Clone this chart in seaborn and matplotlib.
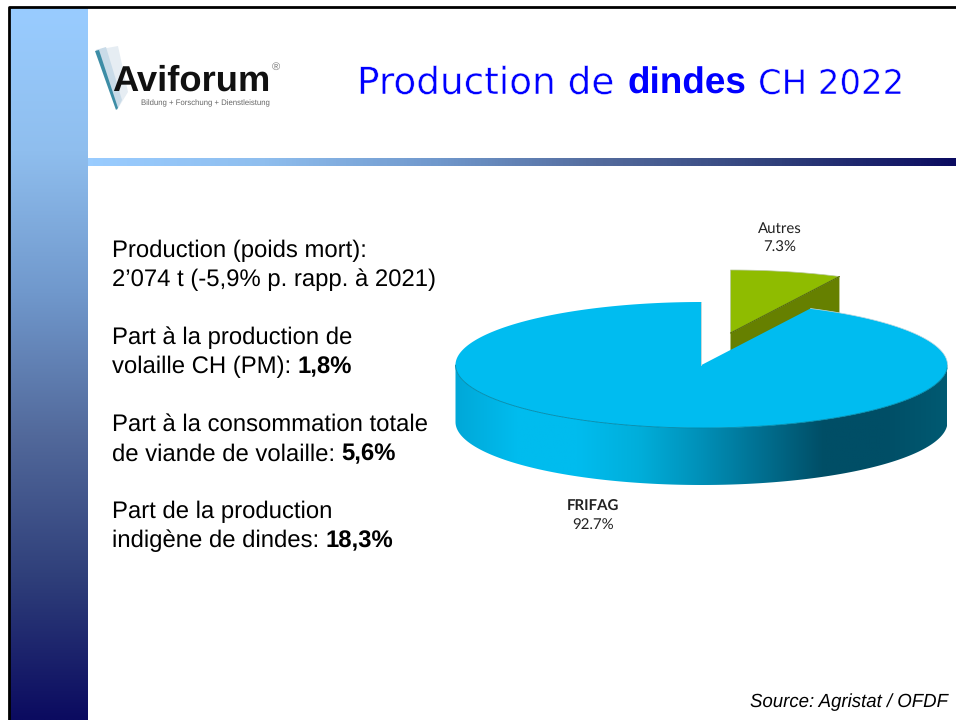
import numpy as np
import matplotlib
matplotlib.use("Agg")
import matplotlib.pyplot as plt
import matplotlib.patheffects as pe
from matplotlib.patches import Polygon
import seaborn as sns

# data
categories = ["FRIFAG", "Autres"]
shares = [92.7, 7.3]
title_parts = ["Production de", "dindes", "CH 2022"]
paragraphs = [
    [[("Production (poids mort):", "normal")],
     [("2\u2019074 t (-5,9% p. rapp. \u00e0 2021)", "normal")]],
    [[("Part \u00e0 la production de", "normal")],
     [("volaille CH (PM): ", "normal"), ("1,8%", "bold")]],
    [[("Part \u00e0 la consommation totale", "normal")],
     [("de viande de volaille: ", "normal"), ("5,6%", "bold")]],
    [[("Part de la production", "normal")],
     [("indig\u00e8ne de dindes: ", "normal"), ("18,3%", "bold")]],
]
source = "Source: Agristat / OFDF"

sns.set_theme(style="white")
plt.rcParams["font.family"] = ["Liberation Sans", "DejaVu Sans"]
plt.rcParams["text.hinting"] = "no_hinting"

fig = plt.figure(figsize=(9.56, 7.2), dpi=100)
ax = fig.add_axes([0, 0, 1, 1])


def gradient(x0, x1, y0, y1, colors, vertical=False, z=1):
    cmap = sns.blend_palette(colors, n_colors=256, as_cmap=True)
    g = np.linspace(0, 1, 256)
    g = g.reshape(-1, 1) if vertical else g.reshape(1, -1)
    return ax.imshow(g, extent=(x0, x1, y1, y0), origin="upper", cmap=cmap,
                     aspect="auto", zorder=z, interpolation="bilinear")


def text_width(s, size, weight, family):
    # the x on both sides keeps the spaces at the ends of a piece measured
    r = fig.canvas.get_renderer()
    a = ax.text(0, 0, "x" + s + "x", fontsize=size, fontweight=weight, family=family)
    b = ax.text(0, 0, "xx", fontsize=size, fontweight=weight, family=family)
    w = a.get_window_extent(r).width - b.get_window_extent(r).width
    a.remove()
    b.remove()
    return w


def rich_text(x, y, parts, size, color="black", family="Liberation Sans", z=10):
    # pieces of a line are put one after the other
    for s, w in parts:
        ax.text(x, y, s, fontsize=size, fontweight=w, color=color, va="baseline",
                ha="left", zorder=z, family=family)
        x += text_width(s, size, w, family)


# slide background
band = ["#99ccff", "#8fbeee", "#7098cc", "#52699b", "#2f3f7a", "#0b0b60"]
gradient(10, 88, 8, 720, band, vertical=True)
gradient(88, 956, 158, 166, band)
ax.plot([9, 9, 956], [720, 7, 7], color="black", lw=2, zorder=3, solid_capstyle="butt")

# logo
for pts, col in [
    ([(96, 50), (118, 46), (128, 92), (117, 110)], "#e6edf3"),
    ([(96, 50), (106, 47), (122, 100), (117, 110)], "#c9dbe8"),
    ([(95, 51), (99, 50), (118, 108), (116, 110)], "#3d8da6"),
]:
    ax.add_patch(Polygon(pts, closed=True, fc=col, ec="none", zorder=4))
ax.text(112, 91, "Aviforum", fontsize=26.2, fontweight="bold", color="#111111",
        family="Liberation Sans", va="baseline", ha="left", zorder=5)
ax.text(141, 105, "Bildung + Forschung + Dienstleistung", fontsize=5.6, color="#666666",
        va="baseline", ha="left", zorder=5)
ax.text(276, 67, "\u00ae", fontsize=8, color="#777777", ha="center", va="center", zorder=5)

# title, each piece starts where it starts on the slide
thin = [pe.Stroke(linewidth=0.35, foreground="white")]
for s, tx, size, w, fam, fx in [
    (title_parts[0], 357, 26.9, "normal", "DejaVu Sans", thin),
    (title_parts[1], 627, 26.6, "bold", "Liberation Sans", None),
    (title_parts[2], 758, 24.4, "normal", "DejaVu Sans", thin),
]:
    ax.text(tx, 94, s, fontsize=size, fontweight=w, family=fam, color="#0000ff", va="baseline",
            ha="left", zorder=10, path_effects=fx)

# left text
y = 257
for para in paragraphs:
    for line in para:
        rich_text(112, y, line, 17.2)
        y += 29.5
    y += 28

# pie, angles come from the shares
cx, cy, rx, ry, depth = 701.5, 365, 246, 63, 57
ox, oy = 29, -32  # explode offset of the small slice
total = sum(shares)
sweep = 2 * np.pi * shares[1] / total


def rim(a):
    return np.sin(a) * rx, -np.cos(a) * ry


# small slice, cut face first and top after
a_small = np.linspace(0, sweep, 60)
sx, sy = rim(a_small)
sx, sy = sx + cx + ox, sy + cy + oy
apex = (cx + ox, cy + oy)
ax.add_patch(Polygon([apex, (sx[-1], sy[-1]), (sx[-1], sy[-1] + depth), (apex[0], apex[1] + depth)],
                     closed=True, fc="#668000", ec="none", zorder=5))
ax.add_patch(Polygon([apex] + list(zip(sx, sy)), closed=True, fc="#8fbc00", ec="#b8c8a0", lw=0.5, zorder=6))
ax.plot([apex[0], sx[-1]], [apex[1], sy[-1]], color="#567000", lw=0.8, zorder=6)

# big slice wall with the shading
a_wall = np.linspace(np.pi / 2, 3 * np.pi / 2, 200)
wx, wy = rim(a_wall)
wx, wy = wx + cx, wy + cy
wall = Polygon(list(zip(wx, wy)) + list(zip(wx[::-1], wy[::-1] + depth)), closed=True,
               fc="none", ec="none", zorder=6)
ax.add_patch(wall)
im = gradient(wx.min(), wx.max(), cy - 2, cy + ry + depth + 2,
              ["#00a8d8", "#00bcee", "#00bcee", "#00aeda", "#0090b8", "#006f90", "#004e66", "#004e66", "#005a72"],
              z=6)
im.set_clip_path(wall)

# big slice top
a_big = np.linspace(sweep, 2 * np.pi, 400)
bx, by = rim(a_big)
bx, by = bx + cx, by + cy
ax.add_patch(Polygon([(cx, cy)] + list(zip(bx, by)), closed=True, fc="#00bcf0", ec="none", zorder=7))
ax.plot(wx, wy, color="#0088a8", lw=0.6, zorder=8)
ax.plot([cx, cx], [cy - ry, cy], color="#c8d8d8", lw=0.7, zorder=8)
ax.plot(bx[:80], by[:80], color="#c0d8e0", lw=0.5, zorder=8)

# pie labels
for name, share, lx, ly in [(categories[1], shares[1], 780, 229), (categories[0], shares[0], 593, 507)]:
    ax.text(lx, ly, name, fontsize=10.8, color="#222222", family="Lato", ha="center", va="center",
            fontweight="bold" if name == "FRIFAG" else "normal", zorder=10)
    ax.text(lx, ly + 19, f"{share}%", fontsize=10.8, color="#222222", family="Lato", ha="center",
            va="center", zorder=10)

ax.text(948, 707, source, fontsize=13.4, style="italic", color="black", ha="right", va="baseline", zorder=10)

ax.set_xlim(0, 956)
ax.set_ylim(720, 0)
ax.axis("off")
fig.savefig("out.png", dpi=100, facecolor="white")
